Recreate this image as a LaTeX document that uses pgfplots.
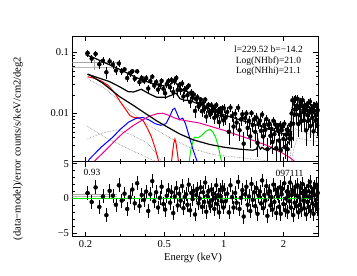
\documentclass[border=0pt]{standalone}
\usepackage{fontspec}
\setmainfont{Liberation Serif}
\usepackage{pgfplots}
\pgfplotsset{compat=1.18}
\usepackage{pgfplotstable}
\definecolor{mygreen}{RGB}{0,235,0}

\pgfplotstableread{
E F dE dF r
0.205 0.0981 0.005 0.0134 0.8
0.215 0.0794 0.005 0.0127 -0.5
0.225 0.0948 0.005 0.0119 1.6
0.235 0.0640 0.005 0.0112 -1.2
0.245 0.0730 0.005 0.0106 0.3
0.255 0.0473 0.005 0.0100 -2.4
0.265 0.0713 0.005 0.0095 1.1
0.275 0.0629 0.005 0.0090 0.4
0.285 0.0506 0.005 0.0085 -0.9
0.295 0.0659 0.005 0.0081 1.9
0.305 0.0492 0.005 0.0061 -0.3
0.315 0.0528 0.005 0.0058 0.7
0.325 0.0381 0.005 0.0056 -1.5
0.335 0.0456 0.005 0.0053 0.2
0.345 0.0491 0.005 0.0051 1.3
0.355 0.0371 0.005 0.0049 -0.7
0.365 0.0490 0.005 0.0047 2.2
0.375 0.0326 0.005 0.0045 -1.1
0.385 0.0384 0.005 0.0043 0.5
0.395 0.0342 0.005 0.0042 -0.2
0.405 0.0379 0.005 0.0041 1.0
0.415 0.0256 0.005 0.0039 -1.8
0.425 0.0340 0.005 0.0038 0.6
0.435 0.0400 0.005 0.0037 2.5
0.445 0.0286 0.005 0.0036 -0.4
0.455 0.0328 0.005 0.0036 0.9
0.465 0.0246 0.005 0.0035 -1.3
0.475 0.0291 0.005 0.0035 0.1
0.485 0.0342 0.005 0.0034 1.7
0.495 0.0254 0.005 0.0034 -0.8
0.505 0.0214 0.005 0.0042 -1.6
0.515 0.0302 0.005 0.0043 0.4
0.525 0.0340 0.005 0.0043 1.2
0.535 0.0268 0.005 0.0044 -0.6
0.545 0.0352 0.005 0.0047 0.9
0.555 0.0225 0.005 0.0049 -2.1
0.565 0.0347 0.005 0.0050 0.3
0.575 0.0382 0.005 0.0047 1.5
0.585 0.0242 0.005 0.0043 -1.0
0.595 0.0293 0.005 0.0040 0.7
0.605 0.0241 0.005 0.0038 -0.3
0.615 0.0310 0.005 0.0037 1.8
0.625 0.0190 0.005 0.0036 -1.4
0.635 0.0245 0.005 0.0036 0.2
0.645 0.0257 0.005 0.0035 0.6
0.655 0.0199 0.005 0.0035 -0.9
0.665 0.0286 0.005 0.0033 2.0
0.675 0.0155 0.005 0.0031 -1.7
0.685 0.0220 0.005 0.0029 0.8
0.695 0.0182 0.005 0.0028 -0.1
0.705 0.0205 0.005 0.0026 1.1
0.715 0.0110 0.005 0.0025 -2.3
0.725 0.0172 0.005 0.0024 0.5
0.735 0.0184 0.005 0.0023 1.4
0.745 0.0130 0.005 0.0022 -0.7
0.755 0.0140 0.005 0.0021 0.0
0.765 0.0169 0.005 0.0020 1.6
0.775 0.0109 0.005 0.0020 -1.2
0.785 0.0148 0.005 0.0020 0.9
0.795 0.0118 0.005 0.0019 -0.5
0.805 0.0169 0.005 0.0019 2.3
0.815 0.0089 0.005 0.0019 -1.9
0.825 0.0129 0.005 0.0018 0.4
0.835 0.0138 0.005 0.0018 1.0
0.845 0.0107 0.005 0.0018 -0.6
0.855 0.0097 0.005 0.0017 -1.1
0.865 0.0136 0.005 0.0017 1.3
0.875 0.0110 0.005 0.0017 -0.2
0.885 0.0123 0.005 0.0017 0.7
0.895 0.0085 0.005 0.0017 -1.5
0.905 0.0110 0.005 0.0016 0.1
0.915 0.0137 0.005 0.0016 1.9
0.925 0.0092 0.005 0.0016 -0.8
0.935 0.0112 0.005 0.0016 0.5
0.945 0.0072 0.005 0.0015 -2.0
0.955 0.0119 0.005 0.0015 1.2
0.965 0.0105 0.005 0.0015 0.3
0.975 0.0093 0.005 0.0015 -0.4
0.985 0.0122 0.005 0.0015 1.6
0.995 0.0077 0.005 0.0014 -1.3
1.00 0.0122 0.01 0.0021 1.3
1.02 0.0085 0.01 0.0020 -0.4
1.04 0.0106 0.01 0.0020 0.7
1.06 0.0050 0.01 0.0020 -2.0
1.08 0.0125 0.01 0.0019 1.9
1.10 0.0091 0.01 0.0019 0.2
1.12 0.0061 0.01 0.0019 -1.3
1.14 0.0099 0.01 0.0018 0.8
1.16 0.0071 0.01 0.0018 -0.6
1.18 0.0124 0.01 0.0018 2.4
1.20 0.0053 0.01 0.0017 -1.5
1.22 0.0080 0.01 0.0017 0.1
1.24 0.0097 0.01 0.0017 1.2
1.26 0.0032 0.01 0.0017 -2.6
1.28 0.0084 0.01 0.0016 0.6
1.30 0.0100 0.01 0.0016 1.7
1.32 0.0058 0.01 0.0016 -0.9
1.34 0.0076 0.01 0.0016 0.3
1.36 0.0042 0.01 0.0015 -1.8
1.38 0.0101 0.01 0.0015 2.1
1.40 0.0065 0.01 0.0015 -0.2
1.42 0.0080 0.01 0.0015 0.9
1.44 0.0050 0.01 0.0015 -1.1
1.46 0.0086 0.01 0.0014 1.5
1.48 0.0033 0.01 0.0014 -2.2
1.50 0.0069 0.01 0.0014 0.4
1.52 0.0076 0.01 0.0014 1.0
1.54 0.0052 0.01 0.0013 -0.7
1.56 0.0096 0.01 0.0013 2.6
1.58 0.0042 0.01 0.0013 -1.4
1.60 0.0065 0.01 0.0013 0.5
1.62 0.0054 0.01 0.0013 -0.3
1.64 0.0081 0.01 0.0013 1.8
1.66 0.0026 0.01 0.0013 -2.5
1.68 0.0065 0.01 0.0012 0.7
1.70 0.0068 0.01 0.0012 1.1
1.72 0.0043 0.01 0.0012 -1.0
1.74 0.0056 0.01 0.0012 0.2
1.76 0.0034 0.01 0.0012 -1.6
1.78 0.0076 0.01 0.0012 2.0
1.80 0.0046 0.01 0.0011 -0.5
1.82 0.0066 0.01 0.0011 1.3
1.84 0.0027 0.01 0.0011 -2.1
1.86 0.0059 0.01 0.0011 0.8
1.88 0.0053 0.01 0.0011 0.3
1.90 0.0036 0.01 0.0011 -1.2
1.92 0.0065 0.01 0.0011 1.6
1.94 0.0025 0.01 0.0011 -2.2
1.96 0.0053 0.01 0.0010 0.6
1.98 0.0061 0.01 0.0010 1.4
2.00 0.0038 0.01 0.0010 -0.8
2.02 0.0068 0.01 0.0010 2.2
2.04 0.0028 0.01 0.0010 -1.7
2.06 0.0045 0.01 0.0010 0.0
2.08 0.0054 0.01 0.0010 1.0
2.10 0.0026 0.01 0.0010 -1.9
2.12 0.0052 0.01 0.0009 0.9
2.14 0.0039 0.01 0.0009 -0.4
2.16 0.0065 0.01 0.0009 2.3
2.18 0.0039 0.01 0.0012 -1.3
2.20 0.0100 0.01 0.0020 0.5
2.22 0.0164 0.01 0.0029 1.2
2.24 0.0068 0.01 0.0032 -2.4
2.26 0.0162 0.01 0.0031 0.7
2.28 0.0116 0.01 0.0029 -0.6
2.30 0.0176 0.01 0.0028 1.7
2.32 0.0096 0.01 0.0028 -1.1
2.34 0.0135 0.01 0.0027 0.4
2.36 0.0173 0.01 0.0027 1.9
2.38 0.0067 0.01 0.0026 -2.0
2.40 0.0123 0.01 0.0026 0.2
2.42 0.0094 0.01 0.0026 -0.9
2.44 0.0154 0.01 0.0026 1.5
2.46 0.0075 0.01 0.0025 -1.6
2.48 0.0134 0.01 0.0025 0.8
2.50 0.0165 0.01 0.0025 2.1
2.52 0.0105 0.01 0.0025 -0.3
2.54 0.0077 0.01 0.0024 -1.4
2.56 0.0135 0.01 0.0024 1.1
2.58 0.0122 0.01 0.0024 0.6
2.60 0.0053 0.01 0.0024 -2.3
2.62 0.0129 0.01 0.0023 1.0
2.64 0.0094 0.01 0.0023 -0.5
2.66 0.0147 0.01 0.0023 1.8
2.68 0.0077 0.01 0.0023 -1.2
2.70 0.0111 0.01 0.0023 0.3
2.72 0.0157 0.01 0.0023 2.4
2.74 0.0062 0.01 0.0022 -1.8
2.76 0.0104 0.01 0.0022 0.1
2.78 0.0121 0.01 0.0022 0.9
2.80 0.0085 0.01 0.0022 -0.7
2.82 0.0131 0.01 0.0022 1.4
2.84 0.0051 0.01 0.0022 -2.2
2.86 0.0110 0.01 0.0022 0.5
2.88 0.0132 0.01 0.0022 1.6
2.90 0.0076 0.01 0.0022 -1.0
2.92 0.0093 0.01 0.0021 -0.2
2.94 0.0140 0.01 0.0021 2.0
2.96 0.0064 0.01 0.0021 -1.5
2.98 0.0113 0.01 0.0021 0.8
}\spec

\pgfplotsset{
  panel/.style={
    scale only axis, width=245.5pt,
    xmin=0.172, xmax=2.99,
    xtick={0.2,0.5,1,2},
    minor xtick={0.3,0.4,0.6,0.7,0.8,0.9},
    tick align=inside,
    major tick length=5pt, minor tick length=2.5pt,
    every tick/.style={black, line width=0.6pt},
    axis line style={black, line width=0.9pt},
    tick label style={font=\fontsize{10.5}{12}\selectfont},
  },
}

\begin{document}
\begin{tikzpicture}[x=1pt,y=1pt]
\path[use as bounding box] (0,0) rectangle (357,-276);

% ---------- top panel ----------
\begin{axis}[xmode=log, ymode=log, panel, at={(72.5pt,-36pt)}, anchor=north west, height=125.7pt,
  ymin=0.00162, ymax=0.186,
  xticklabels={},
  ytick={0.01,0.1}, yticklabels={0.01,0.1},
  minor ytick={0.002,0.003,0.004,0.005,0.006,0.007,0.008,0.009,0.02,0.03,0.04,0.05,0.06,0.07,0.08,0.09},
]
% dotted gray components
\addplot[gray, densely dotted, line width=0.6pt] coordinates {(0.205,0.037) (0.21,0.0354) (0.25,0.026) (0.298,0.0157) (0.35,0.0098) (0.43,0.0060) (0.55,0.0038) (0.7,0.0026) (0.9,0.0021) (1.2,0.0019) (1.6,0.0017) (1.9,0.0015)};
\addplot[gray, densely dotted, line width=0.6pt] coordinates {(0.205,0.0062) (0.21,0.0058) (0.265,0.0037) (0.36,0.0023) (0.46,0.0016) (0.5,0.0014)};
\addplot[gray, densely dotted, line width=0.6pt] coordinates {(0.205,0.0038) (0.21,0.0040) (0.25,0.0049) (0.29,0.0054) (0.34,0.0045) (0.41,0.0033) (0.46,0.0021) (0.5,0.0014)};
\addplot[gray, densely dotted, line width=0.6pt] coordinates {(2.15,0.0015) (2.19,0.0030) (2.23,0.0055) (2.3,0.0056) (2.6,0.0048) (2.99,0.0042)};
\addplot[gray, densely dotted, line width=0.6pt] coordinates {(2.18,0.0015) (2.25,0.0025) (2.35,0.0040) (2.6,0.0037) (2.99,0.0034)};
% ROSAT gray bars
\addplot[gray!70, line width=1.4pt] coordinates {(0.172,0.068) (0.29,0.068)};
\addplot[gray!55, line width=0.8pt] coordinates {(0.172,0.0564) (0.29,0.0564)};
\addplot[gray!70, line width=0.8pt] coordinates {(0.223,0.052) (0.223,0.076)};
% colored components
\addplot[red, line width=1pt] coordinates {(0.205,0.040) (0.22,0.038) (0.24,0.034) (0.26,0.029) (0.28,0.022) (0.30,0.0155) (0.32,0.0115) (0.335,0.0093) (0.35,0.0086) (0.37,0.0085) (0.39,0.0078) (0.41,0.0058) (0.43,0.0042) (0.45,0.0027) (0.465,0.0018) (0.475,0.0013)};
\addplot[red, line width=1pt] coordinates {(0.54,0.0013) (0.55,0.0022) (0.558,0.0032) (0.566,0.0038) (0.574,0.0032) (0.583,0.0022) (0.595,0.0013)};
\addplot[blue, line width=1pt] coordinates {(0.205,0.0016) (0.21,0.0018) (0.24,0.0028) (0.275,0.0041) (0.30,0.0055) (0.33,0.0072) (0.36,0.0083) (0.39,0.0086) (0.42,0.0078) (0.45,0.0068) (0.48,0.0064) (0.51,0.0068) (0.535,0.0092) (0.552,0.0116) (0.565,0.0122) (0.58,0.0100) (0.598,0.0079) (0.62,0.0084) (0.64,0.0068) (0.67,0.0041) (0.70,0.0025) (0.74,0.0015)};
\addplot[magenta, line width=1pt] coordinates {(0.215,0.0015) (0.25,0.0024) (0.28,0.0035) (0.31,0.0048) (0.35,0.0064) (0.38,0.0075) (0.42,0.0090) (0.46,0.0099) (0.49,0.0101) (0.53,0.0093) (0.56,0.0085) (0.60,0.0079) (0.75,0.0070) (1.0,0.0053) (1.35,0.0038) (1.65,0.0030) (2.0,0.0022) (2.15,0.0019) (2.3,0.0016) (2.35,0.0015)};
\addplot[mygreen, line width=1pt] coordinates {(0.665,0.0015) (0.685,0.0028) (0.71,0.0041) (0.74,0.0040) (0.77,0.0043) (0.81,0.0051) (0.85,0.0055) (0.88,0.0050) (0.91,0.0040) (0.935,0.0030) (0.96,0.0020) (0.98,0.0015)};
% black model lines
\addplot[black, line width=1.2pt] coordinates {(0.205,0.044) (0.21,0.0428) (0.245,0.0313) (0.298,0.0188) (0.35,0.0135) (0.40,0.0101) (0.46,0.0075) (0.533,0.0057) (0.60,0.0046) (0.70,0.0037) (0.85,0.0031) (1.0,0.0028) (1.2,0.0026) (1.4,0.0025) (1.46,0.0026) (1.48,0.0029) (1.49,0.0034) (1.50,0.0029) (1.53,0.0026) (1.56,0.0028) (1.6,0.0026) (1.7,0.0026) (1.74,0.0028) (1.78,0.0026) (1.85,0.0025) (2.0,0.0028) (2.1,0.0032) (2.16,0.0036) (2.18,0.0045)};
\addplot[black, line width=1.2pt] coordinates {(0.205,0.044) (0.21,0.0428) (0.24,0.037) (0.265,0.0332) (0.30,0.027) (0.328,0.0228) (0.35,0.0225) (0.383,0.0249) (0.42,0.021) (0.457,0.0185) (0.514,0.0185) (0.545,0.020) (0.574,0.0215) (0.60,0.0175) (0.63,0.0165) (0.655,0.0165) (0.70,0.0155) (0.755,0.014)};
\addplot[black, line width=1.2pt] coordinates {(0.20,0.092) (0.22,0.082) (0.25,0.068) (0.28,0.058) (0.30,0.052) (0.33,0.045) (0.36,0.039) (0.40,0.034) (0.45,0.030) (0.50,0.0282) (0.53,0.029) (0.545,0.031) (0.56,0.0332) (0.575,0.0312) (0.595,0.0265) (0.62,0.0242) (0.645,0.0236) (0.665,0.022) (0.70,0.018) (0.755,0.014) (0.8,0.0127) (0.85,0.0117) (0.9,0.0109) (1.0,0.0095) (1.2,0.0079) (1.5,0.0063) (1.8,0.0052) (2.0,0.0046) (2.16,0.0043) (2.18,0.0055) (2.20,0.0090) (2.22,0.0130) (2.24,0.0145) (2.26,0.0140) (2.30,0.0128) (2.4,0.0118) (2.6,0.0107) (2.8,0.0100) (2.99,0.0096)};
% data
\addplot[black, only marks, mark=none, error bars/.cd, x dir=both, x explicit, y dir=both, y explicit, error mark=none, error bar style={black, line width=0.6pt}]
  table[x=E, y=F, x error=dE, y error=dF] {\spec};
\end{axis}

% ---------- bottom panel ----------
\begin{axis}[xmode=log, panel, at={(72.5pt,-161.7pt)}, anchor=north west, height=75pt,
  ymin=-5.5, ymax=5.3,
  xticklabels={0.2,0.5,1,2},
  ytick={-5,0,5}, yticklabels={−5,0,5},
  minor ytick={-4,-3,-2,-1,1,2,3,4},
]
\addplot[gray!70, line width=1.2pt] coordinates {(0.172,0.6) (0.29,0.6)};
\addplot[gray!55, line width=0.8pt] coordinates {(0.172,0.25) (0.29,0.25)};
\addplot[black, only marks, mark=none, error bars/.cd, x dir=both, x explicit, y dir=both, y fixed=1, error mark=none, error bar style={black, line width=0.6pt}]
  table[x=E, y=r, x error=dE] {\spec};
\addplot[mygreen, line width=1pt] coordinates {(0.172,0) (2.99,0)};
\end{axis}

% ---------- texts ----------
\node[font=\fontsize{9.5}{10.5}\selectfont, align=center] at (268.5,-61) {l=229.52 b=−14.2\\Log(NHbf)=21.0\\Log(NHhi)=21.1};
\node[font=\fontsize{9.5}{10.5}\selectfont] at (92,-172.5) {0.93};
\node[font=\fontsize{9.5}{10.5}\selectfont, anchor=east] at (307,-173) {097111};
\node[font=\fontsize{10.6}{12}\selectfont, rotate=90] at (18,-148.5) {(data−model)/error counts/s/keV/cm2/deg2};
\node[font=\fontsize{10.6}{12}\selectfont] at (193,-258) {Energy (keV)};
\end{tikzpicture}
\end{document}
